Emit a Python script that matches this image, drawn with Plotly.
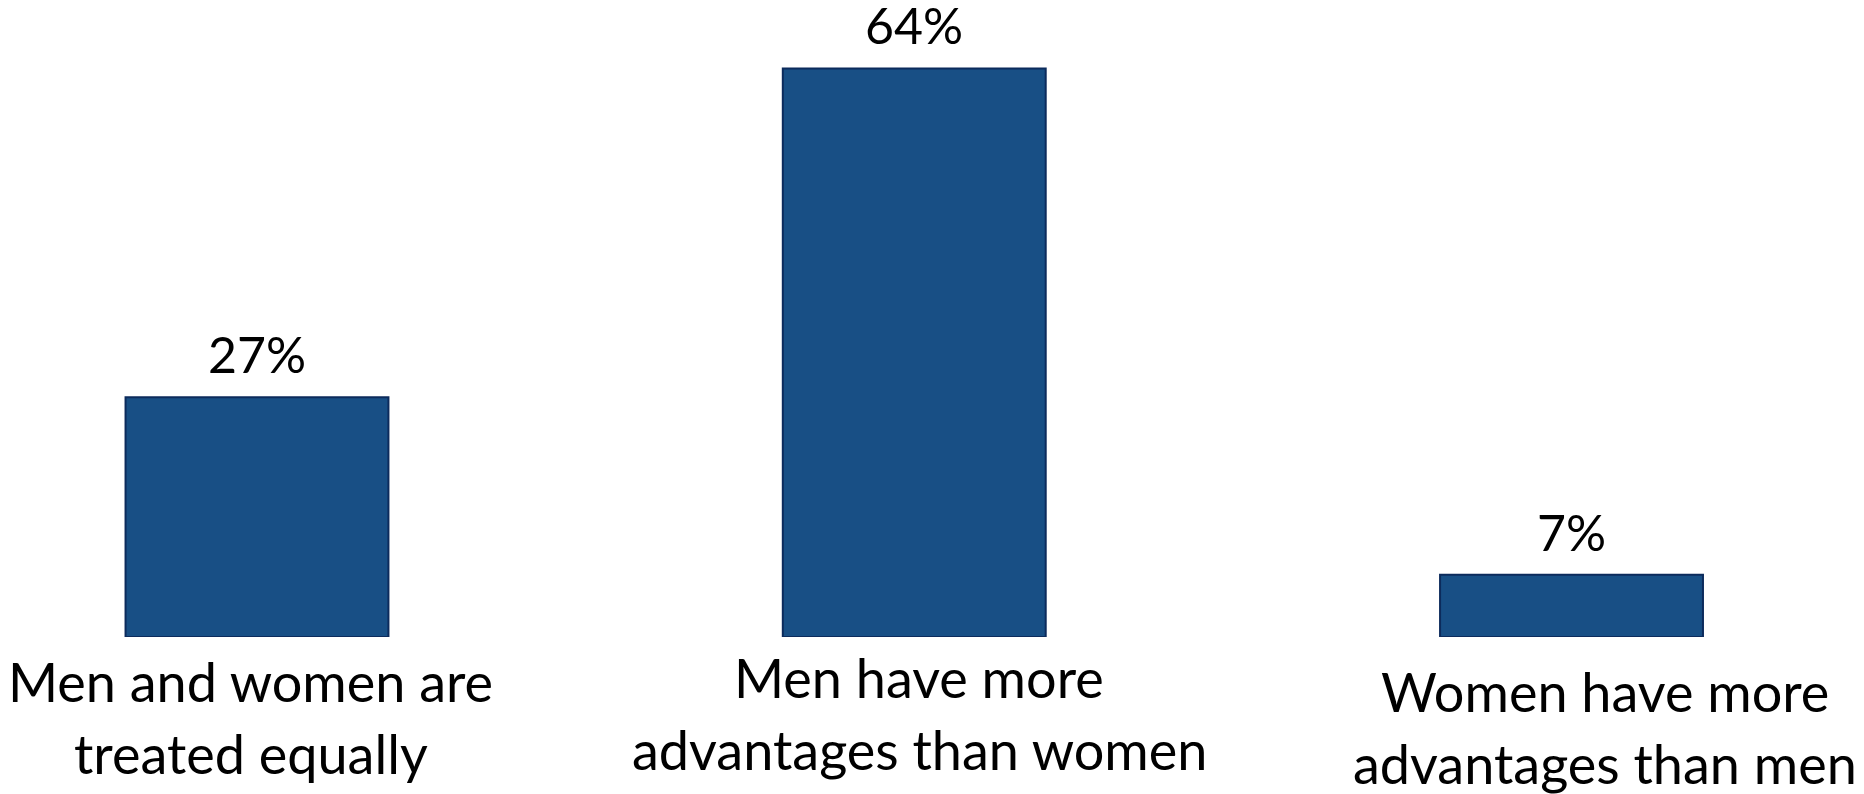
import plotly.graph_objects as go

categories = [
    "Men and women are<br>treated equally",
    "Men have more<br>advantages than women",
    "Women have more<br>advantages than men",
]
values = [27, 64, 7]
value_labels = ["27%", "64%", "7%"]

label_xshift = [-6, 5, 33]
label_yshift = [-10, -6, -20]
LINE_GAP = 72

FONT = "Lato"
fig = go.Figure()
fig.add_trace(go.Bar(
    x=list(range(len(categories))),
    y=values,
    width=0.40,
    marker=dict(color="#184F85", line=dict(color="#0C2B5C", width=2)),
    hoverinfo="skip",
))

for i, (v, t) in enumerate(zip(values, value_labels)):
    fig.add_annotation(x=i, y=v, xref="x", yref="y", text=t, showarrow=False,
                       yanchor="bottom", yshift=11,
                       font=dict(family=FONT, size=50, color="#000000"))

for i, c in enumerate(categories):
    for k, line in enumerate(c.split("<br>")):
        fig.add_annotation(x=i, y=0, xref="x", yref="paper", text=line, showarrow=False,
                           yanchor="top", xanchor="center", xshift=label_xshift[i],
                           yshift=label_yshift[i] - k * LINE_GAP, align="center",
                           font=dict(family=FONT, size=54, color="#000000"))

fig.update_layout(
    width=1864, height=794,
    margin=dict(l=0, r=0, t=0, b=157),
    paper_bgcolor="white", plot_bgcolor="white",
    showlegend=False,
    xaxis=dict(range=[-0.391, 2.445], visible=False, fixedrange=True),
    yaxis=dict(range=[0, 71.7], visible=False, fixedrange=True),
)
fig.write_html("out.html", config={"displayModeBar": False},
               post_script="document.body.style.margin='0px';document.body.style.overflow='hidden';")
